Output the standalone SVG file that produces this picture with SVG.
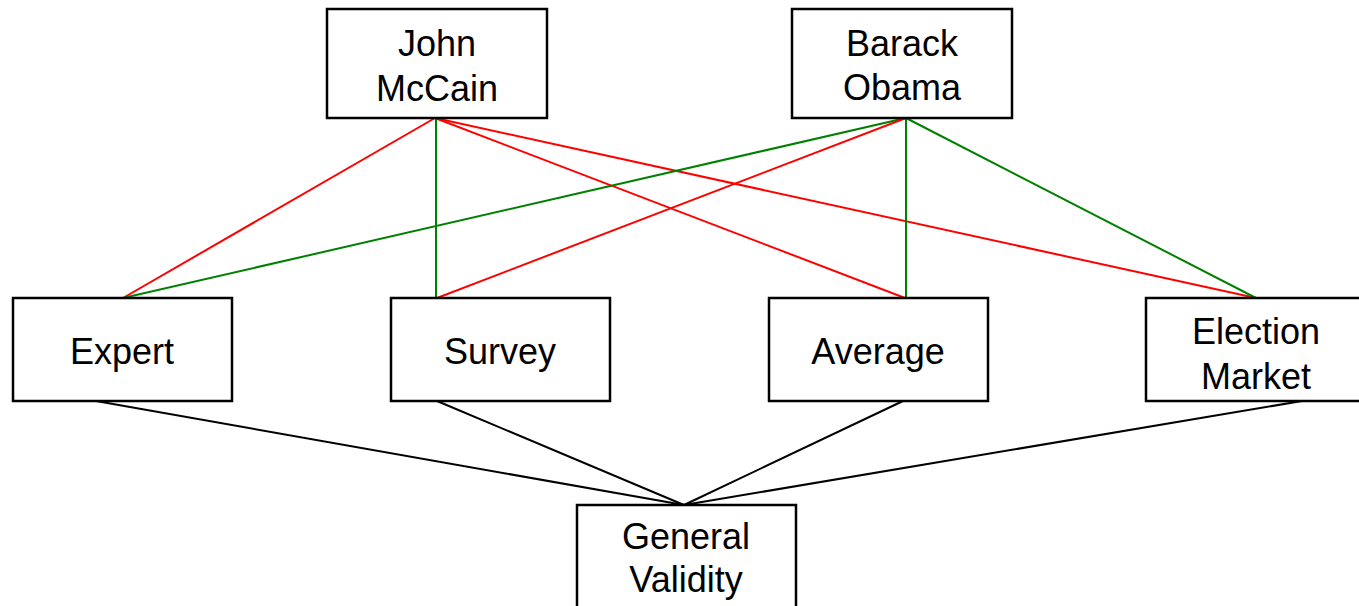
<svg xmlns="http://www.w3.org/2000/svg" width="1359" height="606" viewBox="0 0 1359 606">
  <style>
    .box { fill: #ffffff; stroke: #000000; stroke-width: 2.5; }
    .label { font-family: "Liberation Sans", Arial, sans-serif; font-size: 36px; fill: #000000; text-anchor: middle; }
    .edge { fill: none; stroke-width: 2; }
    .red { stroke: #ff0000; }
    .green { stroke: #008000; }
    .black { stroke: #000000; }
  </style>
  <rect width="1359" height="606" fill="#ffffff"/>

  <g id="connectors">
    <!-- McCain to methods -->
    <line class="edge red" x1="435" y1="118" x2="123" y2="298"/>
    <line class="edge green" x1="436" y1="118" x2="436" y2="298"/>
    <line class="edge red" x1="435" y1="118" x2="905" y2="298"/>
    <line class="edge red" x1="435" y1="118" x2="1256" y2="298"/>
    <!-- Obama to methods -->
    <line class="edge green" x1="906" y1="118" x2="123" y2="298"/>
    <line class="edge red" x1="906" y1="118" x2="437" y2="298"/>
    <line class="edge green" x1="906" y1="118" x2="906" y2="298"/>
    <line class="edge green" x1="906" y1="118" x2="1256" y2="298"/>
    <!-- methods to General Validity -->
    <line class="edge black" x1="96" y1="401" x2="684" y2="505"/>
    <line class="edge black" x1="437" y1="401" x2="684" y2="505"/>
    <line class="edge black" x1="903" y1="401" x2="684" y2="505"/>
    <line class="edge black" x1="1302" y1="401" x2="684" y2="505"/>
  </g>

  <g id="mccain">
    <rect class="box" x="327" y="9" width="220" height="109"/>
    <text class="label" x="437" y="56">John</text>
    <text class="label" x="437" y="101">McCain</text>
  </g>
  <g id="obama">
    <rect class="box" x="792" y="9" width="220" height="109"/>
    <text class="label" x="902" y="56">Barack</text>
    <text class="label" x="902" y="100">Obama</text>
  </g>

  <g id="expert">
    <rect class="box" x="13" y="298" width="219" height="103"/>
    <text class="label" x="122" y="364">Expert</text>
  </g>
  <g id="survey">
    <rect class="box" x="391" y="298" width="219" height="103"/>
    <text class="label" x="500" y="364">Survey</text>
  </g>
  <g id="average">
    <rect class="box" x="769" y="298" width="219" height="103"/>
    <text class="label" x="878" y="364">Average</text>
  </g>
  <g id="election-market">
    <rect class="box" x="1146" y="298" width="220" height="103"/>
    <text class="label" x="1256" y="344">Election</text>
    <text class="label" x="1256" y="389">Market</text>
  </g>

  <g id="general-validity">
    <rect class="box" x="577" y="505" width="219" height="110"/>
    <text class="label" x="686" y="549">General</text>
    <text class="label" x="686" y="592">Validity</text>
  </g>
</svg>
